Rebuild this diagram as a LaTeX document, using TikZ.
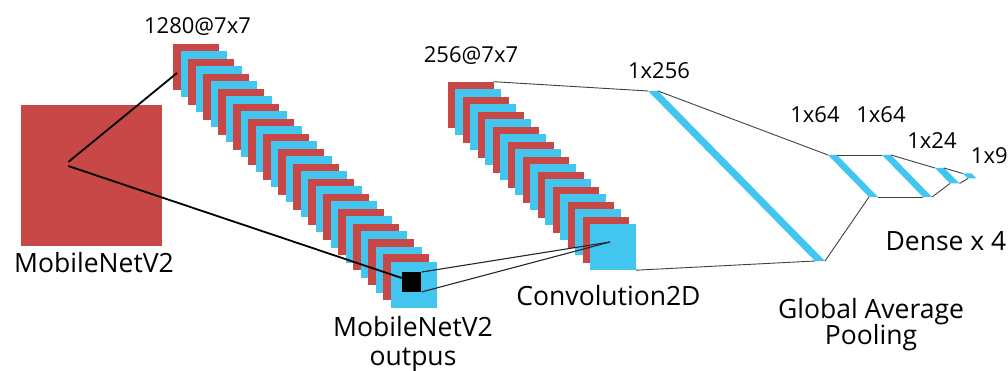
\documentclass[tikz,border=0pt]{standalone}
\usepackage{fontspec}
\setmainfont{Open Sans}
\usetikzlibrary{calc}
\definecolor{fmred}{RGB}{200,72,72}
\definecolor{fmcyan}{RGB}{66,198,240}
\begin{document}
\begin{tikzpicture}[x=1pt,y=-1pt,
  fmap/.style={minimum size=46pt, inner sep=0pt, outer sep=0pt, draw=none},
  lbl/.style={font=\fontsize{22}{26}\selectfont, inner sep=0pt, anchor=base},
  biglbl/.style={font=\fontsize{26.5}{29}\selectfont, inner sep=0pt, anchor=base},
  heavy link/.style={draw=black, line width=1.8pt},
  link/.style={draw=black!85, line width=1.1pt},
  dense link/.style={draw=black!75, line width=0.9pt}
]
\useasboundingbox (0,0) rectangle (1008,371);

% input image
\node[fill=fmred, minimum width=141pt, minimum height=140.6pt, inner sep=0pt] (input) at (91.7,175.3) {};

% MobileNetV2 feature maps (1280@7x7)
\foreach \i in {0,...,29}{
  \ifodd\i \def\fc{fmcyan}\else\def\fc{fmred}\fi
  \node[fmap, fill=\fc] (a\i) at (196+7.5*\i, 67+7.5*\i) {};
}
\node[fill=black, minimum size=19.5pt, inner sep=0pt] (pool) at (411.7,282) {};

% Convolution2D feature maps (256@7x7)
\foreach \i in {0,...,19}{
  \ifodd\i \def\fc{fmcyan}\else\def\fc{fmred}\fi
  \node[fmap, fill=\fc] (b\i) at (470.7+7.5*\i, 104.7+7.5*\i) {};
}

% helper points
\coordinate (in1) at (68.3,162);
\coordinate (in2) at (68.3,166);
\coordinate (s1hit) at (177,73);
\coordinate (focus) at (610,242);

% global average pooling vector
\coordinate (g1) at (648,91);
\coordinate (g2) at (658,91);
\coordinate (g3) at (825,261);
\coordinate (g4) at (815,261);
\fill[fmcyan] (g1) -- (g2) -- (g3) -- (g4) -- cycle;

% dense layers
\coordinate (d1a) at (828,155);   \coordinate (d1b) at (837,155);
\coordinate (d1c) at (878,197);   \coordinate (d1d) at (869,197);
\coordinate (d2a) at (882,155);   \coordinate (d2b) at (891,155);
\coordinate (d2c) at (932,197);   \coordinate (d2d) at (923,197);
\coordinate (d3a) at (935,168);   \coordinate (d3b) at (944,168);
\coordinate (d3c) at (959.5,183.5); \coordinate (d3d) at (950,183.5);
\coordinate (d4a) at (962.7,173.5); \coordinate (d4b) at (971.5,173.5);
\coordinate (d4c) at (976.5,178.5); \coordinate (d4d) at (968,178.5);
\foreach \k in {1,...,4}{
  \fill[fmcyan] (d\k a) -- (d\k b) -- (d\k c) -- (d\k d) -- cycle;
}

% connectors
\draw[heavy link] (in1) -- (s1hit);
\draw[heavy link] (in2) -- ($(pool.west)+(0,-4)$);
\draw[link] (pool.north east) -- (focus);
\draw[link] (pool.south east) -- (focus);
\draw[dense link] (b0.north east) -- (g1);
\draw[dense link] (b19.south east) -- (g4);
\draw[dense link] (g2) -- (d1a);
\draw[dense link] (g3) -- (d1d);
\draw[dense link] (d1b) -- (d2a);
\draw[dense link] (d1c) -- (d2d);
\draw[dense link] (d2b) -- (d3a);
\draw[dense link] (d2c) -- (d3d);
\draw[dense link] (d3b) -- (d4a);
\draw[dense link] (d3c) -- (d4d);

% labels
\node[lbl] (t1280) at (197.5,33.3) {1280@7x7};
\node[lbl] (t256) at (471,62.7) {256@7x7};
\node[lbl] (t1x256) at (659,78.3) {1x256};
\node[lbl] (t1x64a) at (815,122.7) {1x64};
\node[lbl] (t1x64b) at (881,122.7) {1x64};
\node[lbl] (t1x24) at (932,148.3) {1x24};
\node[lbl, anchor=base west] (t1x9) at (970.7,163.3) {1x9};
\node[biglbl] (tdense) at (946,250) {Dense x 4};
\node[biglbl] (tgap1) at (871,318) {Global Average};
\node[biglbl] (tgap2) at (871,344.5) {Pooling};
\node[biglbl] (tconv) at (608.5,305.7) {Convolution2D};
\node[biglbl] (tinput) at (94,272) {MobileNetV2};
\node[biglbl] (tout1) at (413,336.7) {MobileNetV2};
\node[biglbl] (tout2) at (413,365) {outpus};
\end{tikzpicture}
\end{document}
